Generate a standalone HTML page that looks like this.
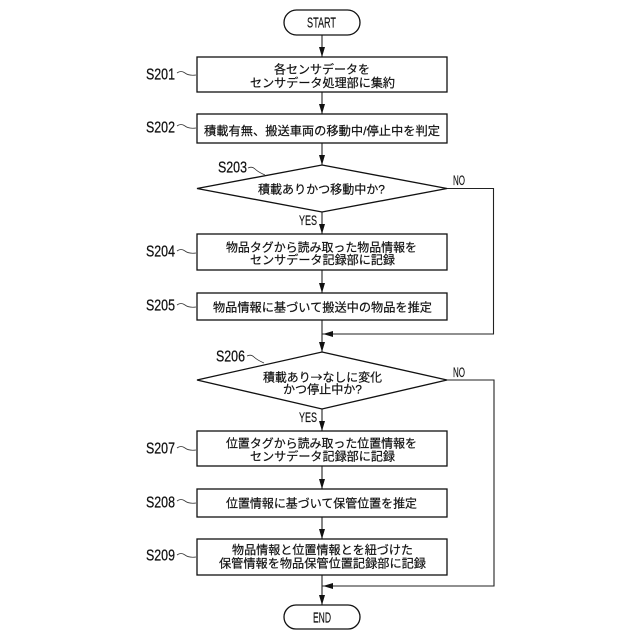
<!DOCTYPE html>
<html lang="ja"><head><meta charset="utf-8"><title>Flowchart</title>
<style>
html,body{margin:0;padding:0;background:#fff}
svg{display:block}
.j{font-family:"Liberation Sans","Noto Sans CJK JP",sans-serif;font-size:12px;fill:#111;stroke:#111;stroke-width:.2}
.l{font-family:"Liberation Sans",sans-serif;font-size:15.500px;fill:#111;stroke:#111;stroke-width:.25}
.s{font-family:"Liberation Sans",sans-serif;font-size:13.500px;fill:#111;stroke:#111;stroke-width:.15}
.t{font-family:"Liberation Sans",sans-serif;font-size:15px;fill:#111;stroke:#111;stroke-width:.15}
.b{fill:#fff;stroke:#111;stroke-width:1.3}
.c{fill:none;stroke:#222;stroke-width:1.1}
.q{fill:none;stroke:#333;stroke-width:.8}
</style></head><body>
<svg width="640" height="640" viewBox="0 0 640 640" xmlns="http://www.w3.org/2000/svg">
<rect width="640" height="640" fill="#fff"/>
<!-- connectors -->
<path class="c" d="M322 35V57M322 92V114M322 143V165M322 212V234M322 270V293M322 320V352M322 409V431M322 466V489M322 517V539M322 575V605"/>
<path class="c" d="M447 188.500H493.500V334H322M447 380H494V586H322"/>
<g fill="#111">
<path d="M319 47h6L322 57zM319 104h6L322 114zM319 155h6L322 165zM319 224h6L322 234zM319 283h6L322 293zM319 342h6L322 352zM319 421h6L322 431zM319 479h6L322 489zM319 529h6L322 539zM319 595h6L322 605z"/>
<path d="M323 334l10-3v6zM323 586l10-3v6z"/>
</g>
<!-- shapes -->
<rect class="b" x="284" y="10" width="76" height="25" rx="12.500"/>
<rect class="b" x="197" y="57" width="250" height="35"/>
<rect class="b" x="197" y="114" width="250" height="29"/>
<polygon class="b" points="322,165 447,188.500 322,212 197,188.500"/>
<rect class="b" x="197" y="234" width="250" height="36"/>
<rect class="b" x="197" y="293" width="250" height="27"/>
<polygon class="b" points="322,352 447,380 322,409 197,380"/>
<rect class="b" x="197" y="431" width="250" height="35"/>
<rect class="b" x="197" y="489" width="250" height="28"/>
<rect class="b" x="197" y="539" width="250" height="36"/>
<rect class="b" x="284" y="605" width="76" height="24" rx="12"/>
<!-- squiggles -->
<g class="q">
<path class="q" d="M177 73q4-3 8 0t11 2"/>
<path class="q" d="M177 126q4-3 8 0t11 2"/>
<path class="q" d="M248 168q4-2 7 1t10 6"/>
<path class="q" d="M177 251q4-3 8 0t11 2"/>
<path class="q" d="M177 305q4-3 8 0t11 2"/>
<path class="q" d="M247 356q4-2 7 1t10 6"/>
<path class="q" d="M177 448q4-3 8 0t11 2"/>
<path class="q" d="M177 501q4-3 8 0t11 2"/>
<path class="q" d="M177 555q4-3 8 0t11 2"/>
</g>
<!-- step labels -->
<text class="l" x="146" y="79.500" textLength="29" lengthAdjust="spacingAndGlyphs">S201</text>
<text class="l" x="146" y="132.500" textLength="29" lengthAdjust="spacingAndGlyphs">S202</text>
<text class="l" x="218" y="172.500" textLength="29" lengthAdjust="spacingAndGlyphs">S203</text>
<text class="l" x="146" y="256.500" textLength="29" lengthAdjust="spacingAndGlyphs">S204</text>
<text class="l" x="146" y="310.500" textLength="29" lengthAdjust="spacingAndGlyphs">S205</text>
<text class="l" x="216" y="361.500" textLength="29" lengthAdjust="spacingAndGlyphs">S206</text>
<text class="l" x="146" y="453.500" textLength="29" lengthAdjust="spacingAndGlyphs">S207</text>
<text class="l" x="146" y="507.500" textLength="29" lengthAdjust="spacingAndGlyphs">S208</text>
<text class="l" x="146" y="560.500" textLength="29" lengthAdjust="spacingAndGlyphs">S209</text>
<!-- small labels -->
<text class="t" x="307" y="27.500" textLength="29" lengthAdjust="spacingAndGlyphs">START</text>
<text class="t" x="313" y="622.500" textLength="18" lengthAdjust="spacingAndGlyphs">END</text>
<text class="s" x="453" y="185" textLength="12" lengthAdjust="spacingAndGlyphs">NO</text>
<text class="s" x="453" y="377" textLength="12" lengthAdjust="spacingAndGlyphs">NO</text>
<text class="s" x="299" y="225" textLength="18" lengthAdjust="spacingAndGlyphs">YES</text>
<text class="s" x="299" y="422" textLength="18" lengthAdjust="spacingAndGlyphs">YES</text>
<!-- body text -->
<text class="j" x="274" y="73.500" textLength="96" lengthAdjust="spacingAndGlyphs">各センサデータを</text>
<text class="j" x="250" y="87" textLength="145" lengthAdjust="spacingAndGlyphs">センサデータ処理部に集約</text>
<text class="j" x="204" y="135" textLength="236" lengthAdjust="spacingAndGlyphs">積載有無、搬送車両の移動中/停止中を判定</text>
<text class="j" x="258" y="193.500" textLength="127" lengthAdjust="spacingAndGlyphs">積載ありかつ移動中か?</text>
<text class="j" x="226" y="251.500" textLength="191" lengthAdjust="spacingAndGlyphs">物品タグから読み取った物品情報を</text>
<text class="j" x="250" y="264" textLength="145" lengthAdjust="spacingAndGlyphs">センサデータ記録部に記録</text>
<text class="j" x="213" y="311.500" textLength="219" lengthAdjust="spacingAndGlyphs">物品情報に基づいて搬送中の物品を推定</text>
<text x="263" y="381.500" class="j" textLength="119" lengthAdjust="spacingAndGlyphs" style='font-family:"Noto Sans CJK JP",sans-serif'>積載あり→なしに変化</text>
<text class="j" x="283" y="393.500" textLength="79" lengthAdjust="spacingAndGlyphs">かつ停止中か?</text>
<text class="j" x="226" y="447.500" textLength="191" lengthAdjust="spacingAndGlyphs">位置タグから読み取った位置情報を</text>
<text class="j" x="250" y="460.500" textLength="145" lengthAdjust="spacingAndGlyphs">センサデータ記録部に記録</text>
<text class="j" x="226" y="507.500" textLength="191" lengthAdjust="spacingAndGlyphs">位置情報に基づいて保管位置を推定</text>
<text class="j" x="232" y="554" textLength="181" lengthAdjust="spacingAndGlyphs">物品情報と位置情報とを紐づけた</text>
<text class="j" x="219" y="567.500" textLength="207" lengthAdjust="spacingAndGlyphs">保管情報を物品保管位置記録部に記録</text>
</svg>
</body></html>
